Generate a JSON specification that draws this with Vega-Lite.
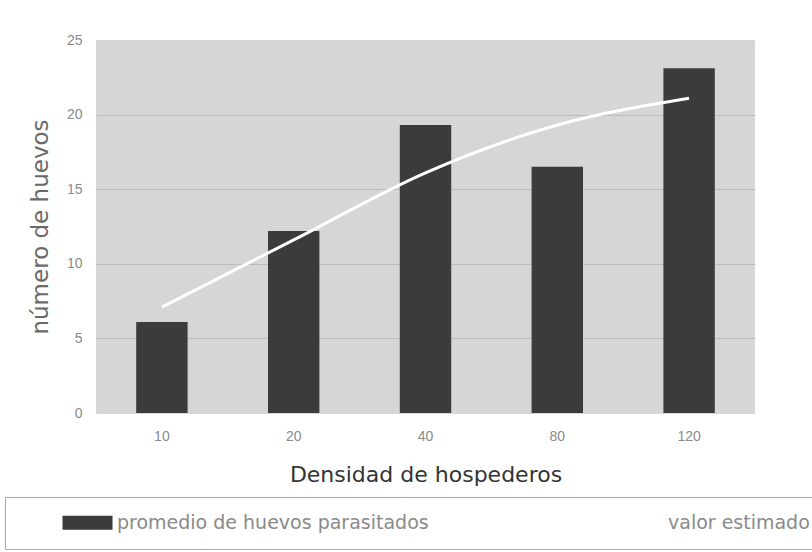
{
  "$schema": "https://vega.github.io/schema/vega-lite/v6.json",
  "autosize": "none",
  "width": 659,
  "height": 373,
  "padding": {"left": 96, "top": 40, "right": 57, "bottom": 139},
  "background": "#ffffff",
  "data": {
    "values": [
      {"densidad": "10", "valor": 6.1, "serie": "promedio de huevos parasitados"},
      {"densidad": "20", "valor": 12.2, "serie": "promedio de huevos parasitados"},
      {"densidad": "40", "valor": 19.3, "serie": "promedio de huevos parasitados"},
      {"densidad": "80", "valor": 16.5, "serie": "promedio de huevos parasitados"},
      {"densidad": "120", "valor": 23.1, "serie": "promedio de huevos parasitados"},
      {"densidad": "10", "valor": 7.1, "serie": "valor estimado"},
      {"densidad": "20", "valor": 11.6, "serie": "valor estimado"},
      {"densidad": "40", "valor": 16.1, "serie": "valor estimado"},
      {"densidad": "80", "valor": 19.3, "serie": "valor estimado"},
      {"densidad": "120", "valor": 21.1, "serie": "valor estimado"}
    ]
  },
  "encoding": {
    "x": {
      "field": "densidad",
      "type": "ordinal",
      "sort": ["10", "20", "40", "80", "120"],
      "scale": {"paddingInner": 0.61, "paddingOuter": 0.305},
      "axis": {
        "title": "Densidad de hospederos",
        "labelAngle": 0,
        "labelFont": "Liberation Sans",
        "labelFontSize": 14,
        "labelColor": "#8a8a8a",
        "labelPadding": 16,
        "ticks": false,
        "domain": false,
        "titleFont": "DejaVu Sans",
        "titleFontSize": 22,
        "titleFontWeight": "normal",
        "titleColor": "#333333",
        "titlePadding": 21
      }
    },
    "y": {
      "field": "valor",
      "type": "quantitative",
      "scale": {"domain": [0, 25], "nice": false},
      "axis": {
        "title": "número de huevos",
        "values": [0, 5, 10, 15, 20, 25],
        "labelFont": "Liberation Sans",
        "labelFontSize": 14,
        "labelColor": "#8a8a8a",
        "labelPadding": 14,
        "ticks": false,
        "domain": false,
        "grid": true,
        "gridColor": {
          "condition": {"test": "datum.value === 0 || datum.value === 25", "value": "#d6d6d6"},
          "value": "#bcbcbc"
        },
        "gridWidth": 1.2,
        "titleFont": "DejaVu Sans",
        "titleFontSize": 23,
        "titleFontWeight": "normal",
        "titleColor": "#6a6a6a",
        "titlePadding": 14
      }
    },
    "color": {
      "field": "serie",
      "type": "nominal",
      "scale": {
        "domain": ["promedio de huevos parasitados", "valor estimado"],
        "range": ["#3b3b3b", "#ffffff"]
      },
      "legend": {
        "title": null,
        "orient": "none",
        "legendX": -91,
        "legendY": 457,
        "direction": "horizontal",
        "columns": 2,
        "columnPadding": 143,
        "padding": 16,
        "strokeColor": "#a8a8a8",
        "fillColor": "#ffffff",
        "symbolType": "M6.4,-1.4H16.4V1.4H6.4Z",
        "symbolSize": 100,
        "symbolStrokeWidth": 0,
        "labelOffset": 77,
        "labelFont": "DejaVu Sans",
        "labelFontSize": 19,
        "labelColor": "#8a8a8a",
        "labelLimit": 0
      }
    }
  },
  "layer": [
    {
      "transform": [{"filter": "datum.serie === 'promedio de huevos parasitados'"}],
      "mark": {"type": "bar", "opacity": 1}
    },
    {
      "transform": [{"filter": "datum.serie === 'valor estimado'"}],
      "mark": {"type": "line", "strokeWidth": 3, "interpolate": "monotone"}
    }
  ],
  "config": {
    "view": {"stroke": null, "fill": "#d6d6d6"}
  }
}
